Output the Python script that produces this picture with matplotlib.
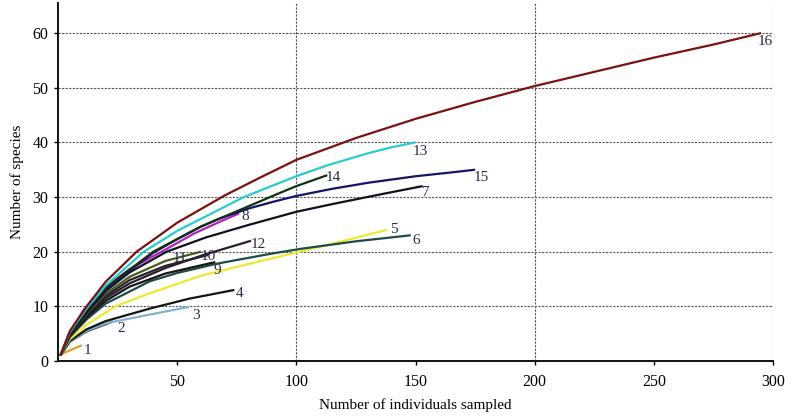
import matplotlib
matplotlib.use("Agg")
import matplotlib.pyplot as plt

plt.rcParams['font.family'] = ['Liberation Serif', 'DejaVu Serif']

# ---- data (sample points along each curve) ----
c1_x = [1, 10];                                   c1_y = [1.2, 2.9]
c2_x = [1, 5, 12, 23];                            c2_y = [1, 3.5, 5.4, 7.2]
c3_x = [1, 5, 12, 20, 38.6, 55];                  c3_y = [1, 3.6, 5.6, 6.9, 8.5, 9.9]
c4_x = [1, 5, 12, 20, 38.6, 55, 74];              c4_y = [1, 3.7, 5.8, 7.3, 9.6, 11.4, 13]
c5_x = [1, 5, 12, 24, 38.6, 60, 89, 101.5, 120, 138]
c5_y = [1, 4.0, 6.6, 10, 12.4, 15.6, 18.7, 20, 22, 24]
c6_x = [1, 5, 12, 20, 38.6, 50, 66.6, 89, 101.5, 125, 148]
c6_y = [1, 4.4, 7.6, 10.5, 14.6, 16.1, 17.8, 19.6, 20.5, 21.9, 23]
c7_x = [1, 5, 12, 20, 30, 45.6, 62, 80, 100, 115, 132, 153]
c7_y = [1, 4.9, 8.9, 12.8, 16.2, 20, 22.6, 24.9, 27.3, 28.7, 30.2, 32]
c8_x = [1, 5, 11, 20, 30, 43.5, 57, 68, 76]
c8_y = [1, 5.1, 9.5, 13.5, 16.8, 20, 23.3, 25.5, 27]
c9_x = [1, 5, 12, 20, 30, 45, 66];                c9_y = [1, 4.6, 8.0, 11.0, 13.6, 16.0, 18.1]
c10_x = [1, 5, 12, 20, 30, 45, 63];               c10_y = [1, 4.8, 8.5, 11.9, 14.8, 17.4, 19.4]
c11_x = [1, 5, 12, 20, 30, 45, 60];               c11_y = [1, 4.9, 8.7, 12.3, 15.4, 18.3, 20]
c12_x = [1, 5, 12, 20, 30, 45, 61, 81];           c12_y = [1, 4.7, 8.3, 11.5, 14.2, 17.0, 19.4, 22]
c13_x = [1, 5, 12, 20, 36, 50, 78, 100, 113, 130, 140, 150]
c13_y = [1, 5.3, 9.6, 13.8, 20, 23.8, 30, 33.8, 35.8, 38.0, 39.1, 40]
c14_x = [1, 5, 12, 20, 40, 60, 89, 100, 113]
c14_y = [1, 5.2, 9.4, 13.4, 20, 24.6, 30, 32.0, 34]
c15_x = [1, 5, 12, 20, 40, 50, 60, 68, 80, 90, 100, 115, 130, 150, 165, 175]
c15_y = [1, 5.2, 9.3, 13.2, 19.8, 22.3, 24.6, 26.1, 27.9, 29.1, 30.2, 31.5, 32.6, 33.8, 34.5, 35.0]
c16_x = [1, 5, 12, 20, 33, 50, 70, 85, 100, 125, 150, 175, 200, 225, 250, 275, 295]
c16_y = [1, 5.5, 10, 14.5, 20, 25.3, 30.3, 33.6, 36.8, 40.8, 44.3, 47.4, 50.3, 52.9, 55.5, 57.9, 60]

curve_names = ['1', '2', '3', '4', '5', '6', '7', '8', '9', '10', '11', '12', '13', '14', '15', '16']
curves_x = [c1_x, c2_x, c3_x, c4_x, c5_x, c6_x, c7_x, c8_x, c9_x, c10_x, c11_x, c12_x, c13_x, c14_x, c15_x, c16_x]
curves_y = [c1_y, c2_y, c3_y, c4_y, c5_y, c6_y, c7_y, c8_y, c9_y, c10_y, c11_y, c12_y, c13_y, c14_y, c15_y, c16_y]
colors = ['#e0a030', '#555a60', '#80b4cc', '#151515', '#eaea30', '#1e4a48', '#101020', '#b020c0',
          '#151515', '#252525', '#4a5a20', '#2e1a30', '#28cccc', '#123012', '#141464', '#7a1212']

# label positions (data coords)
label_x = [12.2, 26.4, 57.9, 76.0, 141.0, 150.2, 154.4, 78.5, 66.7, 62.9, 51.2, 83.9, 151.9, 115.4, 177.5, 296.7]
label_y = [2.0, 5.9, 8.4, 12.3, 24.0, 22.0, 30.9, 26.5, 16.6, 19.2, 18.8, 21.4, 38.4, 33.5, 33.5, 58.5]

x_ticks = [50, 100, 150, 200, 250, 300]
y_ticks = [0, 10, 20, 30, 40, 50, 60]

fig = plt.figure(figsize=(7.94, 4.16), dpi=100)
ax = fig.add_axes([58/794, 55/416, (773-58)/794, (413-55)/416])
ax.set_xlim(0, 300)
ax.set_ylim(0, 65.5)

# grid
grid_kw = dict(color='#555555', linestyle=(0, (2, 1.2)), linewidth=0.8, zorder=0)
for yv in [10, 20, 30, 40, 50, 60]:
    ax.axhline(yv, **grid_kw)
for xv in [100, 200, 300]:
    ax.axvline(xv, **grid_kw)

order = [0, 1, 2, 3, 4, 5, 8, 9, 11, 10, 6, 7, 14, 13, 12, 15]
for i in order:
    ax.plot(curves_x[i], curves_y[i], color=colors[i], linewidth=1.6, zorder=3,
            solid_capstyle='butt', solid_joinstyle='round')

for i, name in enumerate(curve_names):
    ax.text(label_x[i], label_y[i], name, ha='center', va='center', fontsize=11,
            color='#2a2a48', zorder=4)

for s in ['top', 'right']:
    ax.spines[s].set_visible(False)
for s in ['left', 'bottom']:
    ax.spines[s].set_linewidth(1.4)
    ax.spines[s].set_color('#111111')

ax.set_xticks(x_ticks)
ax.set_yticks(y_ticks)
ax.tick_params(axis='x', length=3, width=1, pad=6, labelsize=11.5)
ax.tick_params(axis='y', length=3, width=1, pad=4, labelsize=11.5)
ax.set_xlabel('Number of individuals sampled', fontsize=11, labelpad=6)
ax.set_ylabel('Number of species', fontsize=11, labelpad=6)

fig.savefig('out.png', dpi=100)
